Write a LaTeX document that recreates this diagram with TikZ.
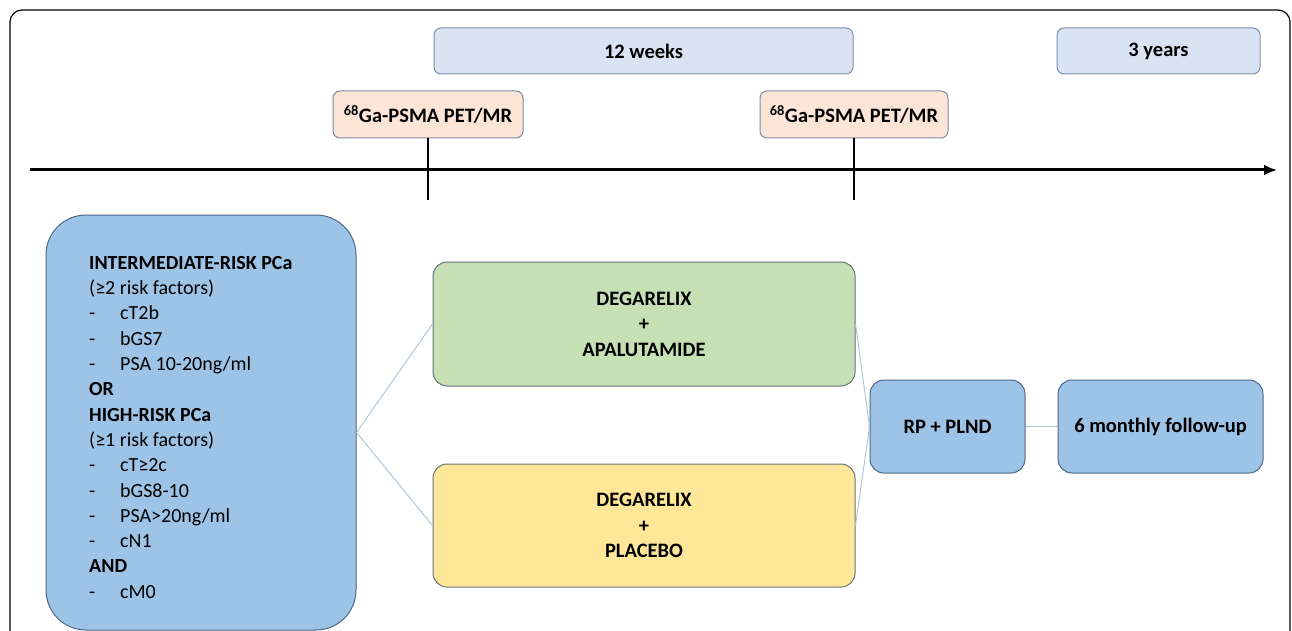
\documentclass[tikz,border=0pt]{standalone}
\usepackage{fontspec}
\setmainfont{Carlito}
\usetikzlibrary{arrows.meta,calc}
\definecolor{lav}{RGB}{218,227,243}
\definecolor{lavb}{RGB}{125,145,175}
\definecolor{peach}{RGB}{251,229,214}
\definecolor{peachb}{RGB}{125,140,160}
\definecolor{bluef}{RGB}{157,195,230}
\definecolor{blueb}{RGB}{75,105,135}
\definecolor{greenf}{RGB}{197,224,180}
\definecolor{yellowf}{RGB}{255,230,153}
\definecolor{armb}{RGB}{100,115,120}
\definecolor{conn}{RGB}{170,195,215}
\newcommand\lineitem[1]{\makebox[31pt][l]{-}#1}
\begin{document}
\begin{tikzpicture}[x=1pt,y=-1pt,
  boxbase/.style={draw, line width=1pt, inner sep=0pt, align=center,
    font=\bfseries\fontsize{20.5}{25.5}\selectfont},
  lavbox/.style={boxbase, fill=lav, draw=lavb, rounded corners=7pt},
  petbox/.style={boxbase, fill=peach, draw=peachb, rounded corners=7pt},
  bluebox/.style={boxbase, fill=bluef, draw=blueb, rounded corners=14pt},
  greenbox/.style={boxbase, fill=greenf, draw=armb, rounded corners=14pt},
  yellowbox/.style={boxbase, fill=yellowf, draw=armb, rounded corners=14pt},
  connector/.style={draw=conn, line width=0.9pt},
  tick/.style={line width=1.6pt, black}]
\useasboundingbox (0,0) rectangle (1292,631);
\clip (0,0) rectangle (1292,631);
\fill[white] (0,0) rectangle (1292,631);
% outer frame
\draw[line width=1.2pt, rounded corners=12pt] (10,660) -- (10,10) -- (1290,10) -- (1290,660);
% top boxes
\node[lavbox, minimum width=419pt, minimum height=46pt] (wk12) at (643.5,51) {12 weeks};
\node[lavbox, minimum width=203pt, minimum height=46pt] (yr3) at (1158.5,51) {3 years};
\node[petbox, minimum width=190pt, minimum height=47pt] (pet1) at (428,114.5) {\textsuperscript{68}Ga-PSMA PET/MR};
\node[petbox, minimum width=188pt, minimum height=47pt] (pet2) at (854,114.5) {\textsuperscript{68}Ga-PSMA PET/MR};
% timeline
\coordinate (tl0) at (30,170);
\coordinate (tl1) at (1277,170);
\draw[line width=3pt, -{Latex[length=13pt,width=11pt]}] (tl0) -- (tl1);
\coordinate (t1) at (428,200);
\coordinate (t2) at (854,200);
\draw[tick] (pet1.south) -- (t1);
\draw[tick] (pet2.south) -- (t2);
% eligibility box
\node[bluebox, rounded corners=40pt, minimum width=310pt, minimum height=415pt] (elig) at (201,422.5) {};
\node[anchor=north west, inner sep=0pt, align=left,
  font=\fontsize{20}{25.3}\selectfont] (eligtext) at (89,256)
  {\textbf{INTERMEDIATE-RISK PCa}\\
   (≥2 risk factors)\\
   \lineitem{cT2b}\\
   \lineitem{bGS7}\\
   \lineitem{PSA 10-20ng/ml}\\
   \textbf{OR}\\
   \textbf{HIGH-RISK PCa}\\
   (≥1 risk factors)\\
   \lineitem{cT≥2c}\\
   \lineitem{bGS8-10}\\
   \lineitem{PSA>20ng/ml}\\
   \lineitem{cN1}\\
   \textbf{AND}\\
   \lineitem{cM0}};
% arms
\node[greenbox, minimum width=422pt, minimum height=124pt] (arm1) at (644,324) {DEGARELIX\\+\\APALUTAMIDE};
\node[yellowbox, minimum width=422pt, minimum height=123pt] (arm2) at (644,525.5) {DEGARELIX\\+\\PLACEBO};
% surgery and follow-up
\node[bluebox, minimum width=155pt, minimum height=93pt] (rp) at (947.5,426.5) {RP + PLND};
\node[bluebox, minimum width=205pt, minimum height=93pt] (fu) at (1160.5,426.5) {6 monthly follow-up};
% connectors
\coordinate (ej) at ($(elig.east)+(0,10)$);
\draw[connector] (ej) -- (arm1.west);
\draw[connector] (ej) -- (arm2.west);
\draw[connector] (arm1.east) -- (rp.west);
\draw[connector] (arm2.east) -- (rp.west);
\draw[connector] (rp.east) -- (fu.west);
\end{tikzpicture}
\end{document}
